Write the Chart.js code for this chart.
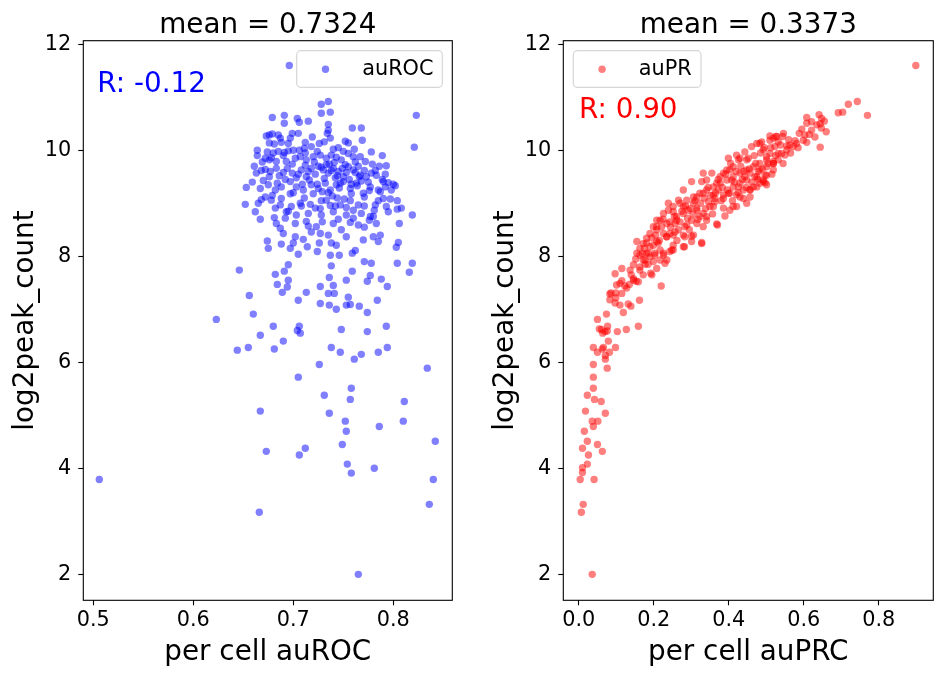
<!DOCTYPE html>
<html>
<head>
<meta charset="utf-8">
<script src="https://cdn.jsdelivr.net/npm/chart.js"></script>
<style>
  body{margin:0;background:#fff;}
  #wrap{position:relative;width:942px;height:676px;overflow:hidden;}
  #wrap canvas{position:absolute;top:0;}
</style>
</head>
<body>
<div id="wrap">
  <canvas id="roc" width="471" height="676" style="left:0"></canvas>
  <canvas id="pr" width="471" height="676" style="left:471px"></canvas>
</div>
<script>
// DATA: per cell auROC (x) vs log2peak_count (y)
var rocX = [
  0.728,0.735,0.728,0.737,0.823,0.821,0.679,0.691,0.691,0.704,
  0.706,0.715,0.735,0.735,0.734,0.737,0.759,0.768,0.769,0.752,
  0.755,0.676,0.673,0.679,0.685,0.687,0.697,0.705,0.699,0.676,
  0.681,0.688,0.695,0.712,0.664,0.664,0.674,0.680,0.685,0.691,
  0.695,0.700,0.706,0.711,0.718,0.726,0.731,0.676,0.678,0.683,
  0.693,0.702,0.707,0.713,0.720,0.727,0.733,0.738,0.743,0.748,
  0.755,0.760,0.767,0.772,0.779,
  0.663,0.672,0.677,0.683,0.690,0.699,0.708,0.713,0.718,0.725,
  0.730,0.735,0.740,0.745,0.750,0.755,0.760,0.767,0.773,0.778,
  0.783,0.790,
  0.653,0.659,0.667,0.675,0.682,0.688,0.697,0.703,0.710,0.718,
  0.725,0.732,0.737,0.743,0.750,0.757,0.763,0.770,0.777,0.785,
  0.652,0.665,0.672,0.678,0.682,0.687,0.693,0.698,0.703,0.707,
  0.715,0.722,0.728,0.733,0.740,0.747,0.753,0.760,0.768,0.777,
  0.782,0.667,0.681,
  0.683,0.687,0.690,0.702,0.710,0.715,0.718,0.723,0.727,0.735,
  0.738,0.743,0.740,0.748,0.753,0.765,0.770,0.776,0.674,0.675,
  0.688,0.700,0.697,0.705,0.714,0.724,0.726,0.737,0.746,0.759,
  0.762,0.771,0.778,0.695,0.738,
  0.792,0.795,0.800,0.802,0.798,0.787,0.790,0.797,0.804,0.793,
  0.795,0.808,0.804,0.819,0.806,0.783,0.780,0.780,0.787,0.785,
  0.805,0.803,0.804,0.819,
  0.646,0.682,0.691,0.695,0.684,0.694,0.689,0.713,0.705,0.656,
  0.660,0.623,0.680,0.706,0.704,0.707,0.667,0.690,0.644,0.655,
  0.681,0.727,0.736,0.740,0.735,0.741,0.727,0.736,0.743,0.753,
  0.759,0.755,0.753,0.757,0.766,0.774,0.777,0.788,0.794,0.784,
  0.774,0.816,0.748,0.774,0.793,0.738,0.747,0.761,0.768,0.785,
  0.794,0.726,0.834,0.705,0.758,0.731,0.757,0.811,0.667,0.736,
  0.752,0.810,0.753,0.786,0.842,0.749,0.673,0.712,0.706,0.754,
  0.758,0.781,0.840,0.836,0.666,0.765,0.506,0.696,
  0.712,0.722,0.731,0.738,0.744,0.749,0.756,0.762,0.768,0.716,
  0.724,0.729,0.739,0.746,0.751,0.758,0.764,0.771,0.776,0.703,
  0.709,0.697,0.688,0.679,0.670,0.661,0.669,0.686,0.694,0.733,
  0.741,0.752,0.765,0.782,0.789,0.717,0.727,0.737,0.753,0.765,
  0.781,0.692,0.702,0.713,0.745,0.757,0.771,0.662,0.668,0.719,
  0.745,0.761,0.778,0.789,0.793,
  0.705,0.715,0.721,0.728,0.736,0.742,0.747,0.753,0.758,0.766,
  0.771,0.775,0.735,0.744,0.728,0.720,0.711,0.700,0.692,0.684,
  0.676,0.668,0.672,0.690,0.699,0.712,0.724,0.740,0.750,0.762,
  0.786,0.792,0.757,0.771,0.785,0.729,0.742,0.760,0.695,0.708
];
var rocY = [
  10.87,10.92,10.70,10.72,10.66,10.06,10.62,10.66,10.51,10.60,
  10.53,10.55,10.49,10.38,10.32,10.23,10.42,10.42,10.19,10.17,
  10.14,10.29,10.27,10.31,10.29,10.23,10.23,10.32,10.32,10.14,
  10.12,10.15,10.13,10.15,10.00,9.90,9.97,9.95,9.98,9.96,
  9.99,10.00,10.00,10.04,10.07,10.13,10.16,9.82,9.86,9.79,
  9.79,9.85,9.88,9.82,9.88,9.91,9.85,9.91,9.87,9.82,
  9.94,9.88,9.88,9.79,9.74,
  9.57,9.64,9.60,9.66,9.58,9.57,9.63,9.50,9.66,9.70,
  9.63,9.57,9.66,9.60,9.50,9.69,9.63,9.53,9.50,9.57,
  9.53,9.41,
  9.30,9.40,9.28,9.35,9.25,9.31,9.41,9.31,9.25,9.35,
  9.28,9.38,9.25,9.35,9.41,9.28,9.38,9.19,9.31,9.25,
  8.98,9.00,9.12,9.06,8.91,8.97,8.84,8.94,8.78,9.00,
  8.81,8.91,8.78,9.06,8.84,8.97,8.78,8.87,8.81,8.75,
  8.97,8.70,8.73,
  8.62,8.53,8.43,8.37,8.32,8.57,8.46,8.56,8.43,8.40,
  8.25,8.21,8.62,8.50,8.37,8.59,8.31,8.68,8.29,8.15,
  8.23,8.25,8.15,8.04,8.18,8.09,8.25,8.02,8.02,8.06,
  8.11,7.90,7.87,7.84,7.82,
  9.31,9.39,9.36,9.33,9.25,9.22,9.09,9.08,9.05,8.94,
  8.84,8.91,8.89,8.78,8.62,8.62,8.75,8.37,8.40,8.28,
  8.26,8.17,7.87,7.87,
  7.74,7.66,7.72,7.55,7.47,7.42,7.32,7.32,7.17,7.26,
  6.91,6.81,6.68,6.68,6.60,6.55,6.51,6.40,6.23,6.28,
  6.25,7.43,7.60,7.45,7.30,7.30,7.11,7.08,7.00,7.55,
  7.72,7.23,7.08,7.09,7.06,7.53,7.64,7.57,7.43,7.17,
  6.94,7.70,6.62,6.58,6.68,6.28,6.19,6.06,6.15,6.19,
  6.28,5.96,5.89,5.72,5.51,5.38,5.30,5.26,5.08,5.04,
  4.89,4.89,4.70,4.79,4.51,4.45,4.32,4.38,4.25,4.08,
  3.91,4.00,3.79,3.32,3.17,2.00,3.79,11.60,
  9.72,9.55,9.47,9.62,9.52,9.66,9.45,9.58,9.42,9.44,
  9.36,9.22,9.14,9.29,9.08,9.18,9.33,9.12,9.24,9.48,
  9.36,9.18,9.09,9.15,9.43,9.70,9.78,9.52,9.66,9.73,
  9.77,9.73,9.70,9.62,9.45,8.98,8.90,8.96,8.92,8.97,
  8.87,8.72,8.62,8.66,8.70,8.64,8.55,8.84,9.07,10.25,
  10.05,10.02,9.97,9.90,9.71,
  9.55,9.60,9.78,9.68,9.74,9.48,9.38,9.58,9.36,9.50,
  9.62,9.40,9.20,9.10,9.05,9.18,9.10,9.20,9.45,9.38,
  9.50,9.62,9.85,9.90,9.74,9.95,9.98,10.02,9.98,9.78,
  9.70,9.55,9.05,8.95,9.05,8.65,8.95,8.72,8.85,8.95
];

// DATA: per cell auPRC (x) vs log2peak_count (y)
var prcX = [
  0.036,0.007,0.012,0.004,0.041,0.010,0.010,0.023,0.026,0.010,
  0.023,0.050,0.063,0.015,0.036,0.051,0.039,0.018,0.071,0.042,
  0.060,0.023,0.039,0.039,0.039,0.076,0.071,0.039,0.050,0.063,
  0.066,0.071,0.082,0.098,0.079,0.064,0.070,0.076,0.061,0.055,
  0.077,0.103,0.127,0.159,0.050,0.074,0.083,0.097,0.110,0.119,
  0.139,0.132,0.162,0.083,0.086,0.099,0.099,0.115,0.101,0.110,
  0.123,0.135,0.146,0.153,0.115,0.220,
  0.097,0.115,0.137,0.146,0.163,0.177,0.192,0.208,0.230,0.217,
  0.199,0.172,0.163,0.186,0.203,0.226,0.243,0.252,0.155,0.181,
  0.199,0.212,0.235,0.243,0.257,0.279,0.301,0.282,0.208,0.217,
  0.235,0.257,0.226,0.190,0.328,0.208,
  0.239,0.252,0.266,0.279,0.292,0.306,0.315,0.332,0.346,0.363,
  0.372,0.386,0.399,0.412,0.430,0.448,0.457,0.475,0.483,0.501,
  0.519,0.532,0.541,0.555,0.572,0.581,0.332,0.341,0.368,0.377,
  0.395,0.412,0.426,0.443,0.461,0.483,0.510,0.528,0.546,0.368,
  0.332,0.301,0.323,0.283,0.261,0.412,0.430,0.408,0.399,0.421,
  0.448,0.466,0.501,0.519,0.492,0.466,0.439,0.359,0.341,0.386,
  0.315,
  0.899,0.719,0.743,0.692,0.704,0.770,0.608,0.641,0.648,0.608,
  0.621,0.635,0.644,0.647,0.621,0.644,0.588,0.603,0.599,0.608,
  0.577,0.563,0.555,0.544,0.526,0.510,0.532,0.523,0.550,0.532,
  0.519,0.501,0.497,0.457,0.483,0.470,0.439,
  0.519,0.488,0.475,0.492,0.510,0.501,0.483,0.448,0.430,0.412,
  0.395,0.377,0.359,0.341,0.323,0.306,0.288,0.270,0.252,0.239,
  0.226,0.208,0.199,0.181,0.172,0.163,0.155,0.163,0.177,0.190,
  0.203,0.217,0.226,0.235,0.248,0.252,0.279,0.301,0.328,0.306,
  0.283,0.266,0.288,0.315,0.341,0.370,0.390,0.403,0.421,0.448,
  0.457,0.475,0.492,0.497,0.479,0.443,0.426,0.403,0.386,0.363,
  0.350,0.332,0.315,0.297,0.279,0.261,0.243,0.221,0.234,0.252,
  0.208,0.190,0.181,0.195,0.172,0.159,0.146,0.430,0.403,0.386,
  0.355,0.301,0.328,0.279,0.359,0.421,0.457,0.501,0.519,
  0.205,0.215,0.225,0.245,0.255,0.262,0.270,0.275,0.285,0.290,
  0.295,0.305,0.310,0.318,0.325,0.335,0.338,0.345,0.352,0.357,
  0.365,0.372,0.380,0.383,0.392,0.397,0.405,0.410,0.415,0.420,
  0.425,0.432,0.436,0.440,0.447,0.452,0.455,0.462,0.468,0.472,
  0.478,0.485,0.490,0.495,0.505,0.512,0.515,0.525,0.538,0.545,
  0.560,0.565,0.585,0.595,0.615,0.630,0.655,0.660,0.170,0.185,
  0.195,0.140,0.128,0.152,0.175
];
var prcY = [
  2.00,3.17,3.32,3.79,3.79,3.92,4.01,4.08,4.25,4.38,
  4.51,4.45,4.32,4.70,4.89,4.89,4.79,5.08,5.04,5.30,
  5.26,5.38,5.51,5.72,5.96,5.89,6.06,6.28,6.19,6.25,
  6.28,6.13,6.19,6.28,6.40,6.55,6.58,6.59,6.62,6.63,
  6.68,6.58,6.62,6.68,6.81,6.91,7.18,7.12,7.08,6.94,
  7.06,7.10,7.17,7.29,7.31,7.31,7.22,7.30,7.46,7.49,
  7.44,7.47,7.55,7.53,7.54,7.44,
  7.67,7.77,7.74,7.84,7.74,7.85,7.68,7.77,7.87,7.93,
  7.90,7.93,8.02,8.06,8.02,8.06,8.09,8.12,8.28,8.25,
  8.21,8.25,8.37,8.43,8.46,8.40,8.38,8.18,8.56,8.68,
  8.62,8.62,8.43,8.43,8.26,8.50,
  9.00,8.84,9.06,8.94,8.87,9.00,9.12,9.19,9.03,9.09,
  9.25,9.16,9.19,9.31,9.38,9.44,9.57,9.50,9.63,9.69,
  9.75,9.82,9.94,10.01,10.07,10.13,9.57,9.44,9.38,9.50,
  9.63,9.69,9.82,9.97,10.07,10.13,10.19,10.26,10.32,8.61,
  8.56,8.68,8.75,8.56,8.68,8.94,9.12,9.44,9.85,9.91,
  9.82,9.69,9.88,9.63,9.44,9.31,9.25,8.94,8.75,8.91,
  8.91,
  11.60,10.87,10.92,10.71,10.72,10.66,10.62,10.67,10.60,10.51,
  10.54,10.48,10.50,10.42,10.38,10.06,10.32,10.29,10.19,10.15,
  10.18,10.10,10.08,10.26,10.26,10.27,10.16,10.07,9.91,9.94,
  9.75,9.53,9.39,9.26,9.38,9.50,9.09,
  10.23,10.16,10.13,10.01,9.94,9.82,9.75,9.63,9.57,9.50,
  9.44,9.38,9.31,9.25,9.19,9.12,9.06,9.00,8.94,8.87,
  8.81,8.68,8.56,8.34,8.24,8.15,8.06,7.80,7.93,7.99,
  8.06,8.12,8.02,7.93,8.12,8.21,8.18,8.28,8.24,8.40,
  8.37,8.50,8.59,8.62,8.68,8.59,8.76,8.87,8.94,9.00,
  9.25,9.31,9.41,9.53,9.60,9.50,9.31,9.19,9.09,9.03,
  8.94,8.81,8.87,8.90,8.81,8.75,8.65,8.56,8.37,8.40,
  8.28,8.18,8.06,7.65,7.65,7.52,7.58,9.85,9.63,9.57,
  9.57,9.41,9.41,9.25,9.16,9.16,9.12,9.35,9.79,
  8.40,8.30,8.70,8.55,8.75,8.30,8.65,8.85,8.95,8.72,
  8.50,8.80,9.05,8.70,9.00,9.10,8.90,9.30,9.15,8.80,
  9.20,9.45,9.05,9.30,9.55,9.25,9.75,9.05,9.40,9.60,
  9.20,9.70,9.45,9.60,9.30,9.85,9.65,9.40,9.90,9.75,
  9.45,9.95,9.65,10.05,9.75,10.05,9.55,9.90,10.10,9.75,
  10.20,9.95,10.05,10.40,10.30,10.25,10.55,10.35,8.05,7.85,
  8.35,7.65,7.40,7.95,8.15
];

// TICKS AND TEXTS
var rocTicks = [0.5, 0.6, 0.7, 0.8];
var prcTicks = [0.0, 0.2, 0.4, 0.6, 0.8];
var yTicks   = [2, 4, 6, 8, 10, 12];
var yLabel   = 'log2peak_count';

Chart.defaults.font.family = '"DejaVu Sans", sans-serif';
Chart.defaults.color = '#000';

// rounded rectangle path (matplotlib legend frame)
function roundPath(ctx, x, y, w, h, r){
  ctx.beginPath();
  ctx.moveTo(x + r, y);
  ctx.arcTo(x + w, y, x + w, y + h, r);
  ctx.arcTo(x + w, y + h, x, y + h, r);
  ctx.arcTo(x, y + h, x, y, r);
  ctx.arcTo(x, y, x + w, y, r);
  ctx.closePath();
}

// frame, legend, R value, title and axis labels
var deco = {
  id: 'deco',
  afterDatasetsDraw: function(chart, args, o){
    var ctx = chart.ctx, a = chart.chartArea;
    var cx = (a.left + a.right) / 2;
    ctx.save();

    // four spines
    ctx.strokeStyle = '#000';
    ctx.lineWidth = 1.1;
    ctx.strokeRect(a.left, a.top, a.right - a.left, a.bottom - a.top);

    // legend box
    var bx = o.legendRight ? a.right - 10 - o.legendW : a.left + 10;
    var by = a.top + 10;
    roundPath(ctx, bx, by, o.legendW, 36.6, 4);
    ctx.fillStyle = 'rgba(255,255,255,0.8)';
    ctx.fill();
    ctx.strokeStyle = '#d6d6d6';
    ctx.lineWidth = 1.2;
    ctx.stroke();
    ctx.beginPath();
    ctx.arc(bx + 28.8, by + 18.6, 3.7, 0, Math.PI * 2);
    ctx.fillStyle = o.dot;
    ctx.fill();
    ctx.fillStyle = '#000';
    ctx.font = '20.8px "DejaVu Sans"';
    ctx.textAlign = 'left';
    ctx.textBaseline = 'alphabetic';
    ctx.fillText(o.legend, bx + 65.5, by + 24.3);

    // R value
    ctx.font = '27.8px "DejaVu Sans"';
    ctx.fillStyle = o.rColor;
    ctx.fillText(o.rText, a.left + o.rDx, o.rY);

    // title and x label
    ctx.fillStyle = '#000';
    ctx.textAlign = 'center';
    ctx.fillText(o.title, cx, 32.7);
    ctx.fillText(o.xLabel, cx, 659.5);

    // y label (rotated)
    ctx.translate(a.left - 49.9, (a.top + a.bottom) / 2);
    ctx.rotate(-Math.PI / 2);
    ctx.fillText(yLabel, 0, 0);
    ctx.restore();
  }
};

function makeChart(id, xs, ys, c){
  var pts = xs.map(function(v, i){ return {x: v, y: ys[i]}; });
  return new Chart(document.getElementById(id), {
    type: 'scatter',
    data: {
      datasets: [{
        label: c.deco.legend,
        data: pts,
        backgroundColor: c.deco.dot,
        borderWidth: 0,
        pointRadius: 3.7,
        pointHoverRadius: 3.7
      }]
    },
    options: {
      responsive: false,
      animation: false,
      devicePixelRatio: 1,
      events: [],
      layout: { padding: { left: 0, right: c.padRight, top: 40.7, bottom: 0 } },
      plugins: { legend: { display: false }, tooltip: { enabled: false }, deco: c.deco },
      scales: {
        x: {
          type: 'linear', bounds: 'data', min: c.xMin, max: c.xMax,
          afterBuildTicks: function(s){ s.ticks = c.xTicks.map(function(v){ return {value: v}; }); },
          afterFit: function(s){ s.height = 75.7; },
          ticks: { font: { size: 20.8 }, color: '#000', padding: 3, maxRotation: 0, autoSkip: false,
                   callback: function(v){ return Number(v).toFixed(1); } },
          grid: { display: true, drawOnChartArea: false, drawTicks: true, tickLength: 5, color: '#000', tickWidth: 1.1 },
          border: { display: false }
        },
        y: {
          type: 'linear', bounds: 'data', min: 1.51, max: 12.068,
          afterBuildTicks: function(s){ s.ticks = yTicks.map(function(v){ return {value: v}; }); },
          afterFit: function(s){ s.width = c.yWidth; },
          ticks: { font: { size: 20.8 }, color: '#000', padding: 7, autoSkip: false,
                   callback: function(v){ return String(v); } },
          grid: { display: true, drawOnChartArea: false, drawTicks: true, tickLength: 5, color: '#000', tickWidth: 1.1 },
          border: { display: false }
        }
      }
    },
    plugins: [deco]
  });
}

// left: auROC
makeChart('roc', rocX, rocY, {
  xMin: 0.49, xMax: 0.859, xTicks: rocTicks, yWidth: 83.3, padRight: 18.7,
  deco: { title: 'mean = 0.7324', xLabel: 'per cell auROC', legend: 'auROC', legendW: 145.6, legendRight: true,
          dot: 'rgba(0,0,255,0.5)', rText: 'R: -0.12', rColor: '#0000ff', rDx: 14, rY: 91.7 }
});

// right: auPR
makeChart('pr', prcX, prcY, {
  xMin: -0.0411, xMax: 0.9456, xTicks: prcTicks, yWidth: 92.3, padRight: 8.7,
  deco: { title: 'mean = 0.3373', xLabel: 'per cell auPRC', legend: 'auPR', legendW: 127.7, legendRight: false,
          dot: 'rgba(255,0,0,0.5)', rText: 'R: 0.90', rColor: '#ff0000', rDx: 15.7, rY: 118.3 }
});
</script>
</body>
</html>
